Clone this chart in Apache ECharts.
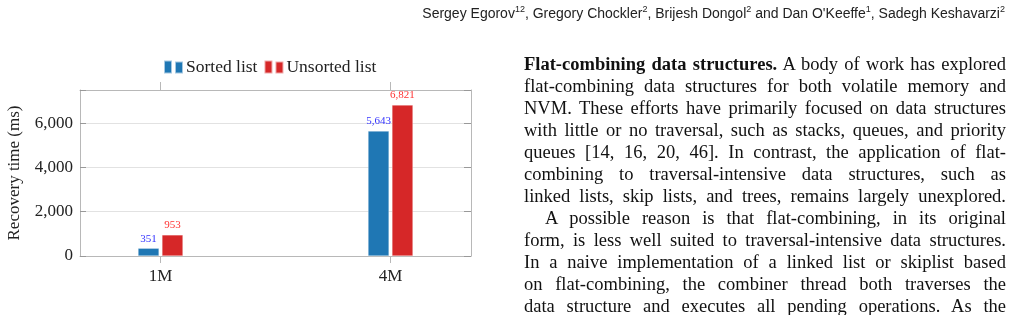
<!DOCTYPE html>
<html lang="en">
<head>
    <meta charset="UTF-8">
    <title>Recovery time</title>
    <script src="https://cdn.jsdelivr.net/npm/echarts@6/dist/echarts.min.js"></script>
    <style>
        html, body { margin: 0; padding: 0; background: #fff; }
        #wrap { position: relative; width: 1012px; height: 315px; overflow: hidden; }
        #chart { position: absolute; left: 0; top: 0; width: 1012px; height: 315px; }
        .header {
            position: absolute; right: 7px; top: 4px;
            font-family: "Liberation Sans", "DejaVu Sans", sans-serif; font-size: 14px; color: #222;
            white-space: nowrap;
        }
        .header sup { font-size: 9px; }
        .para {
            position: absolute; left: 524px; top: 53px; width: 482px;
            font-family: "Liberation Serif", serif; font-size: 18.5px; line-height: 22px; color: #111;
        }
        .para div { white-space: nowrap; text-align: justify; text-align-last: justify; }
        .para .indent { padding-left: 21px; }
    </style>
</head>
<body>
<div id="wrap">
    <div id="chart"></div>
    <div class="header">Sergey Egorov<sup>12</sup>, Gregory Chockler<sup>2</sup>, Brijesh Dongol<sup>2</sup> and Dan O'Keeffe<sup>1</sup>, Sadegh Keshavarzi<sup>2</sup></div>
    <div class="para">
        <div><b>Flat-combining data structures.</b> A body of work has explored</div>
        <div>flat-combining data structures for both volatile memory and</div>
        <div>NVM. These efforts have primarily focused on data structures</div>
        <div>with little or no traversal, such as stacks, queues, and priority</div>
        <div>queues [14, 16, 20, 46]. In contrast, the application of flat-</div>
        <div>combining to traversal-intensive data structures, such as</div>
        <div>linked lists, skip lists, and trees, remains largely unexplored.</div>
        <div class="indent">A possible reason is that flat-combining, in its original</div>
        <div>form, is less well suited to traversal-intensive data structures.</div>
        <div>In a naive implementation of a linked list or skiplist based</div>
        <div>on flat-combining, the combiner thread both traverses the</div>
        <div>data structure and executes all pending operations. As the</div>
    </div>
</div>
<script>
    // data
    const categories = ['1M', '4M'];
    const sortedList = [351, 5643];
    const unsortedList = [953, 6821];
    const yTicks = [0, 2000, 4000, 6000];

    const serif = '"Liberation Serif", serif';
    const pos = categories.map((c, i) => i);

    let myChart = echarts.init(document.getElementById('chart'));

    function barSeries(name, values, color, labelColor) {
        return {
            name: name,
            type: 'bar',
            xAxisIndex: 0,
            yAxisIndex: 0,
            barWidth: 21,
            barGap: '14%',
            itemStyle: { color: color, borderColor: 'rgba(255,255,255,0.6)', borderWidth: 0.5 },
            label: {
                show: true,
                position: 'top',
                distance: 4,
                color: labelColor,
                fontFamily: serif,
                fontSize: 11,
                formatter: p => p.value[1].toLocaleString('en-US')
            },
            data: values.map((v, i) => [pos[i], v])
        };
    }

    let option = {
        animation: false,
        grid: { left: 80, right: 541, top: 90, bottom: 59 },
        legend: {
            left: 163,
            top: 58,
            padding: 0,
            itemWidth: 19,
            itemHeight: 13,
            itemGap: 6,
            textStyle: { fontFamily: serif, fontSize: 17.5, color: '#222', padding: [0, 0, 0, -2] },
            data: [
                { name: 'Sorted list', icon: 'path://M0,0h8v13h-8z M11,1h8v12h-8z' },
                { name: 'Unsorted list', icon: 'path://M0,0h8v13h-8z M11,1h8v12h-8z' }
            ]
        },
        xAxis: [{
            type: 'value',
            min: -0.35,
            max: 1.35,
            position: 'bottom',
            axisLine: { show: true, onZero: false, lineStyle: { color: '#b8b8b8' } },
            axisTick: { show: true, customValues: pos, length: 7, lineStyle: { color: '#b8b8b8' } },
            axisLabel: {
                customValues: pos,
                formatter: v => categories[Math.round(v)],
                fontFamily: serif, fontSize: 17, color: '#222', margin: 12
            },
            splitLine: { show: false }
        }, {
            type: 'value',
            min: -0.35,
            max: 1.35,
            position: 'top',
            axisLine: { show: true, onZero: false, lineStyle: { color: '#b8b8b8' } },
            axisTick: { show: true, customValues: pos, length: 8, lineStyle: { color: '#b8b8b8' } },
            axisLabel: { show: false },
            splitLine: { show: false }
        }],
        yAxis: [{
            type: 'value',
            min: 0,
            max: 7500,
            interval: 2000,
            name: 'Recovery time (ms)',
            nameLocation: 'middle',
            nameGap: 57,
            nameTextStyle: { fontFamily: serif, fontSize: 17, color: '#222' },
            axisLine: { show: true, onZero: false, lineStyle: { color: '#b8b8b8' } },
            axisTick: { show: true, inside: true, length: 6, lineStyle: { color: '#999' } },
            axisLabel: {
                customValues: yTicks,
                fontFamily: serif, fontSize: 17, color: '#222', margin: 7
            },
            splitLine: { show: true, lineStyle: { color: '#e2e2e2' } }
        }, {
            type: 'value',
            min: 0,
            max: 7500,
            interval: 2000,
            position: 'right',
            axisLine: { show: true, onZero: false, lineStyle: { color: '#b8b8b8' } },
            axisTick: { show: true, inside: true, length: 7, lineStyle: { color: '#999' } },
            axisLabel: { show: false },
            splitLine: { show: false }
        }],
        series: [
            barSeries('Sorted list', sortedList, '#1f77b4', '#3333ff'),
            barSeries('Unsorted list', unsortedList, '#d62728', '#ff3333')
        ]
    };
    myChart.setOption(option);
</script>
</body>
</html>
